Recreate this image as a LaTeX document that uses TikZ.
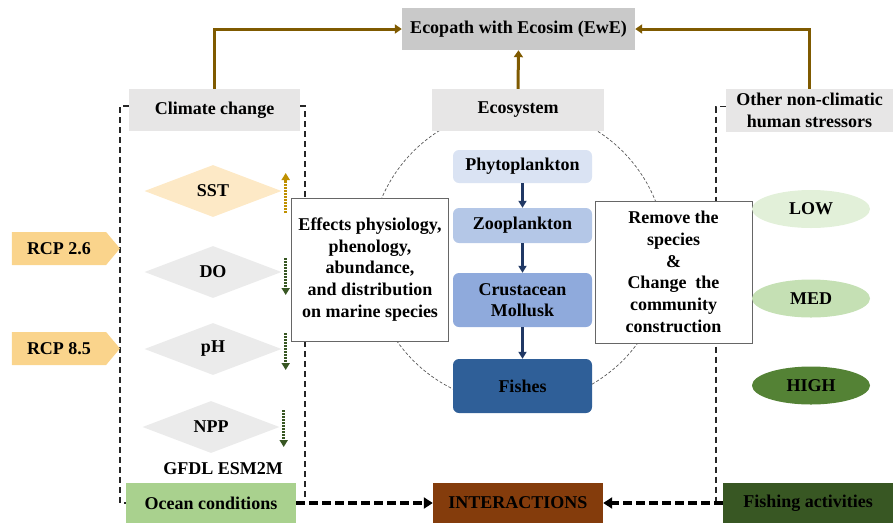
\documentclass[tikz,border=0pt]{standalone}
\usepackage{fontspec}
\setmainfont{Liberation Serif}
\usetikzlibrary{positioning,arrows.meta,shapes.geometric,shapes.symbols}
\definecolor{ewegray}{HTML}{C9C9C9}
\definecolor{headgray}{HTML}{E7E6E6}
\definecolor{linkbrown}{HTML}{7F5A00}
\definecolor{sstpeach}{HTML}{FDE9C6}
\definecolor{vargray}{HTML}{EBEBEB}
\definecolor{rcpyellow}{HTML}{FAD48C}
\definecolor{phytoblue}{HTML}{DAE3F3}
\definecolor{zooblue}{HTML}{B4C7E7}
\definecolor{crustblue}{HTML}{8FAADC}
\definecolor{fishblue}{HTML}{2F5F98}
\definecolor{chainnavy}{HTML}{203864}
\definecolor{lowgreen}{HTML}{E2F0D9}
\definecolor{medgreen}{HTML}{C5E0B4}
\definecolor{highgreen}{HTML}{548235}
\definecolor{oceangreen}{HTML}{A9D18E}
\definecolor{interbrown}{HTML}{843C0C}
\definecolor{fishgreen}{HTML}{385723}
\definecolor{trendgold}{HTML}{BF9000}
\tikzset{
  box/.style={draw=none,inner sep=0pt,align=center,font=\fontsize{18}{21.7}\selectfont\bfseries},
  head/.style={box,fill=headgray},
  trophic/.style={box,rounded corners=6pt,minimum width=139pt},
  var/.style={box,diamond,aspect=2.6,minimum width=137pt,minimum height=52pt},
  rcp/.style={box,signal,signal to=east,signal pointer angle=100,fill=rcpyellow,
    minimum width=108pt,minimum height=33pt},
  level/.style={box,ellipse,minimum width=118pt,minimum height=38pt},
  note/.style={box,draw=gray!80!black,fill=white,line width=0.9pt},
  feed/.style={-{Triangle[width=9pt,length=7pt]},linkbrown,line width=3pt},
  chain/.style={-{Triangle[width=8pt,length=7pt]},chainnavy,line width=2.6pt},
  trend/.style={-{Triangle[width=8pt,length=7pt]},line width=3pt,dash pattern=on 1.8pt off 1.2pt},
  frame/.style={line width=1.5pt,black!85,dash pattern=on 6pt off 4pt},
  merge/.style={-{Triangle[width=11pt,length=9pt]},line width=3.4pt,dash pattern=on 9pt off 4pt},
  ring/.style={gray!70!black,line width=0.7pt,dash pattern=on 3pt off 2pt},
}
\begin{document}
\begin{tikzpicture}[x=1pt,y=-1pt]
  \useasboundingbox (0,0) rectangle (895,523);
  % ecosystem ring behind everything
  \draw[ring] (518,256) circle (148pt);

  \node[box,fill=ewegray,minimum width=233pt,minimum height=42pt] (ewe) at (518.5,29) {Ecopath with Ecosim (EwE)};
  \node[head,minimum width=171pt,minimum height=42pt] (clim) at (214.5,110) {Climate change};
  \node[head,minimum width=172pt,minimum height=42pt] (eco) at (518,110) {Ecosystem};
  \node[head,minimum width=167pt,minimum height=43pt] (other) at (809.5,110.5) {Other non-climatic\\human stressors};

  \node[box,fill=oceangreen,minimum width=170pt,minimum height=40pt] (ocean) at (211,503) {Ocean conditions};
  \node[box,fill=interbrown,minimum width=170pt,minimum height=40pt] (inter) at (518,503) {INTERACTIONS};
  \node[box,fill=fishgreen,minimum width=170pt,minimum height=40pt] (fishing) at (808,503) {Fishing activities};

  % dashed brackets, partly hidden by the notes
  \draw[frame] ([yshift=4pt]clim.west) -- ++(-9,0) |- (ocean.west);
  \draw[frame] ([yshift=4pt]clim.east) -- ++(5,0) -- ++(0,392);
  \draw[frame] ([yshift=4pt]other.west) -- ++(-10,0) |- (fishing.west);

  % climate drivers
  \node[var,fill=sstpeach] (sst) at (213,191) {SST};
  \node[var,fill=vargray] (do) at (213,272) {DO};
  \node[var,fill=vargray] (ph) at (213,349) {pH};
  \node[var,fill=vargray] (npp) at (211,427) {NPP};
  \node[box] (gfdl) at (223,469) {GFDL ESM2M};
  \node[rcp] (rcp26) at (59,248.5) {RCP 2.6};
  \node[rcp] (rcp85) at (59,348.5) {RCP 8.5};

  % food chain
  \node[trophic,fill=phytoblue,minimum height=33pt] (phyto) at (522.5,166.5) {Phytoplankton};
  \node[trophic,fill=zooblue,minimum height=35pt] (zoo) at (522.5,225.5) {Zooplankton};
  \node[trophic,fill=crustblue,minimum height=54pt] (crust) at (522.5,300) {Crustacean\\Mollusk};
  \node[trophic,fill=fishblue,minimum height=54pt] (fishes) at (522.5,386) {Fishes};

  \node[note,minimum width=157pt,minimum height=143pt] (effects) at (370,269.5)
    {Effects physiology,\\phenology,\\abundance,\\and distribution\\on marine species};
  \node[note,minimum width=157pt,minimum height=142pt] (remove) at (673.5,272)
    {Remove the\\species\\\&\\Change~~the\\community\\construction};

  % fishing pressure
  \node[level,fill=lowgreen] (low) at (811,209) {LOW};
  \node[level,fill=medgreen] (med) at (811,298.5) {MED};
  \node[level,fill=highgreen] (high) at (811,385.5) {HIGH};

  \foreach \v/\c/\s/\e in {sst/trendgold/-22/18,do/fishgreen/14/-23,ph/fishgreen/16/-21,npp/fishgreen/17/-20}{
    \coordinate (\v-a) at ([xshift=4pt,yshift=\s pt]\v.east);
    \coordinate (\v-b) at ([xshift=4pt,yshift=\e pt]\v.east);
    \draw[trend,\c] (\v-a) -- (\v-b);
  }

  \draw[feed] (clim.north) |- (ewe.west);
  \draw[feed] (eco.north) -- (ewe.south);
  \draw[feed] (other.north) |- (ewe.east);
  \path[chain] (phyto) edge (zoo) (zoo) edge (crust) (crust) edge (fishes);
  \draw[merge] (ocean) -- (inter);
  \draw[merge] (fishing) -- (inter);
\end{tikzpicture}
\end{document}
